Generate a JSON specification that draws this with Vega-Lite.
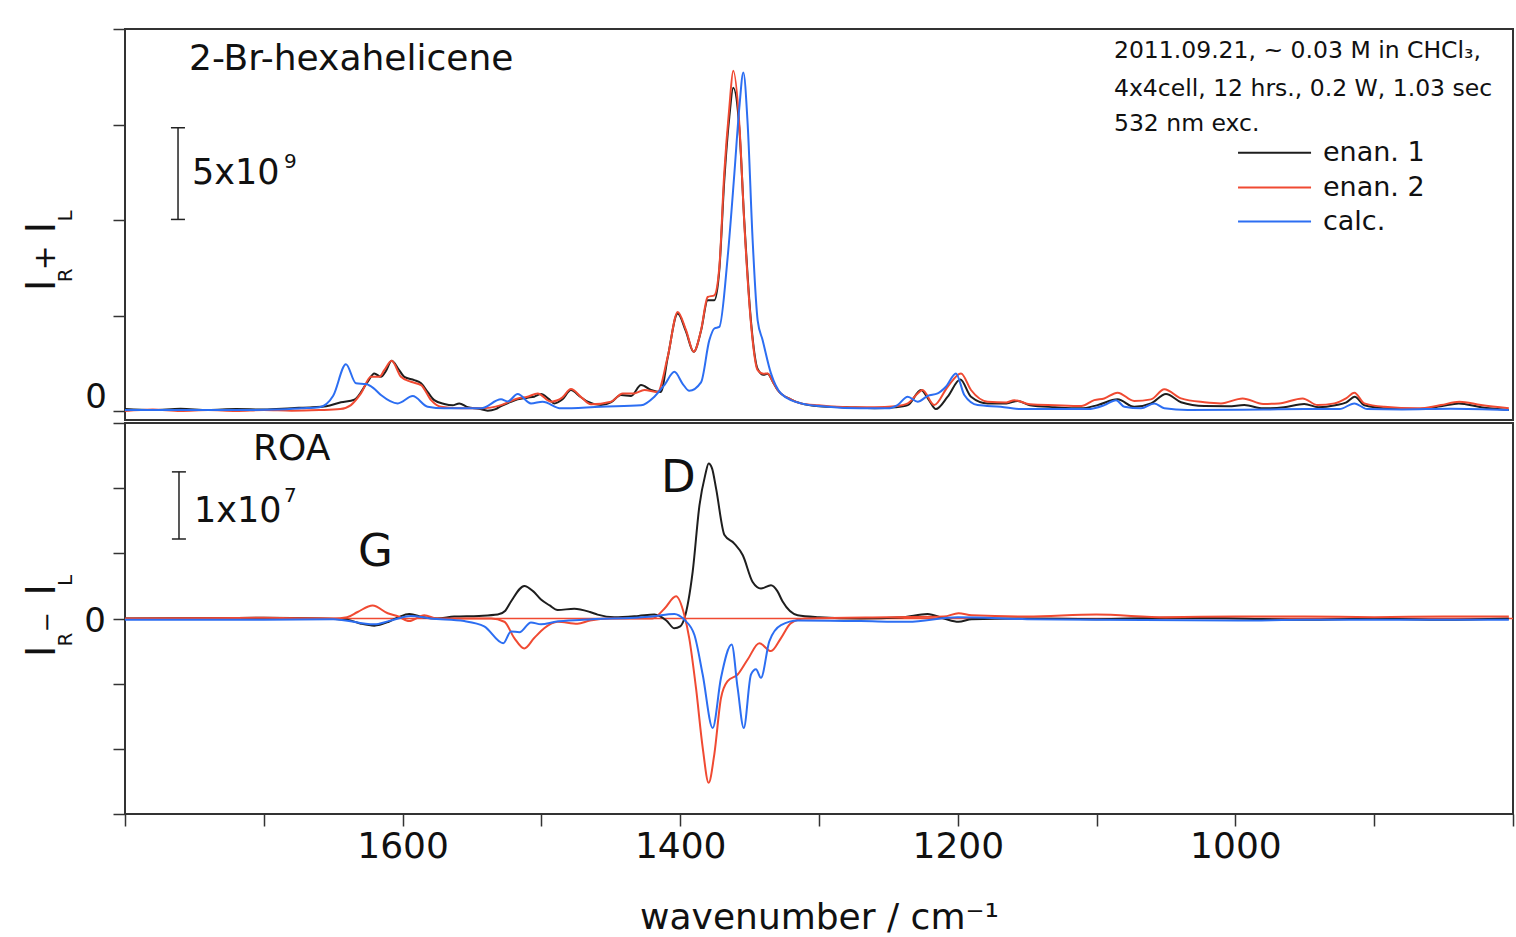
{
  "$schema": "https://vega.github.io/schema/vega-lite/v6.json",
  "background": "white",
  "padding": {"left": 22, "top": 27, "right": 0, "bottom": 0},
  "spacing": 0,
  "config": {
    "view": {"stroke": "#333333", "strokeWidth": 2},
    "font": "DejaVu Sans",
    "text": {"font": "DejaVu Sans", "color": "#111111"},
    "axis": {"tickColor": "#333333", "tickWidth": 1.5, "domain": false, "grid": false, "labelFont": "DejaVu Sans", "titleFont": "DejaVu Sans", "labelColor": "#111111", "titleColor": "#111111", "titleFontWeight": "normal"}
  },
  "datasets": {
    "raman": [
      {"s": "enan. 1", "w": 1800, "v": 0.1}, {"s": "enan. 1", "w": 1780, "v": 0.05}, {"s": "enan. 1", "w": 1760, "v": 0.12}, {"s": "enan. 1", "w": 1740, "v": 0.05}, {"s": "enan. 1", "w": 1720, "v": 0.1}, {"s": "enan. 1", "w": 1700, "v": 0.08}, {"s": "enan. 1", "w": 1680, "v": 0.15}, {"s": "enan. 1", "w": 1665, "v": 0.2}, {"s": "enan. 1", "w": 1655, "v": 0.25}, {"s": "enan. 1", "w": 1644.4, "v": 0.46}, {"s": "enan. 1", "w": 1634.8, "v": 0.59}, {"s": "enan. 1", "w": 1625.2, "v": 1.53}, {"s": "enan. 1", "w": 1620.4, "v": 1.97}, {"s": "enan. 1", "w": 1615.6, "v": 1.79}, {"s": "enan. 1", "w": 1612, "v": 2.1}, {"s": "enan. 1", "w": 1607.9, "v": 2.63}, {"s": "enan. 1", "w": 1603, "v": 2.2}, {"s": "enan. 1", "w": 1598.8, "v": 1.79}, {"s": "enan. 1", "w": 1591.6, "v": 1.62}, {"s": "enan. 1", "w": 1586.7, "v": 1.45}, {"s": "enan. 1", "w": 1582, "v": 1.0}, {"s": "enan. 1", "w": 1577.2, "v": 0.57}, {"s": "enan. 1", "w": 1570, "v": 0.37}, {"s": "enan. 1", "w": 1564, "v": 0.3}, {"s": "enan. 1", "w": 1559.2, "v": 0.4}, {"s": "enan. 1", "w": 1553, "v": 0.2}, {"s": "enan. 1", "w": 1545, "v": 0.12}, {"s": "enan. 1", "w": 1538.7, "v": 0.02}, {"s": "enan. 1", "w": 1533, "v": 0.1}, {"s": "enan. 1", "w": 1529.1, "v": 0.26}, {"s": "enan. 1", "w": 1523, "v": 0.45}, {"s": "enan. 1", "w": 1517.1, "v": 0.61}, {"s": "enan. 1", "w": 1510, "v": 0.7}, {"s": "enan. 1", "w": 1505.2, "v": 0.75}, {"s": "enan. 1", "w": 1500.3, "v": 0.89}, {"s": "enan. 1", "w": 1495, "v": 0.65}, {"s": "enan. 1", "w": 1490.7, "v": 0.4}, {"s": "enan. 1", "w": 1485, "v": 0.6}, {"s": "enan. 1", "w": 1478.7, "v": 1.1}, {"s": "enan. 1", "w": 1472, "v": 0.75}, {"s": "enan. 1", "w": 1466.7, "v": 0.49}, {"s": "enan. 1", "w": 1457.1, "v": 0.31}, {"s": "enan. 1", "w": 1450, "v": 0.45}, {"s": "enan. 1", "w": 1442.7, "v": 0.84}, {"s": "enan. 1", "w": 1435.4, "v": 0.79}, {"s": "enan. 1", "w": 1428.2, "v": 1.36}, {"s": "enan. 1", "w": 1421, "v": 1.1}, {"s": "enan. 1", "w": 1414, "v": 1.0}, {"s": "enan. 1", "w": 1409, "v": 2.8}, {"s": "enan. 1", "w": 1401.8, "v": 5.1}, {"s": "enan. 1", "w": 1396, "v": 4.2}, {"s": "enan. 1", "w": 1390.3, "v": 3.1}, {"s": "enan. 1", "w": 1385, "v": 4.2}, {"s": "enan. 1", "w": 1380.2, "v": 5.8}, {"s": "enan. 1", "w": 1375.4, "v": 5.8}, {"s": "enan. 1", "w": 1371.8, "v": 7.4}, {"s": "enan. 1", "w": 1368.3, "v": 12.0}, {"s": "enan. 1", "w": 1364.6, "v": 15.4}, {"s": "enan. 1", "w": 1361.8, "v": 16.93}, {"s": "enan. 1", "w": 1357.4, "v": 14.8}, {"s": "enan. 1", "w": 1353.8, "v": 9.9}, {"s": "enan. 1", "w": 1349, "v": 4.7}, {"s": "enan. 1", "w": 1344.2, "v": 2.2}, {"s": "enan. 1", "w": 1340, "v": 1.9}, {"s": "enan. 1", "w": 1337, "v": 1.95}, {"s": "enan. 1", "w": 1333, "v": 1.5}, {"s": "enan. 1", "w": 1329.8, "v": 1.1}, {"s": "enan. 1", "w": 1320, "v": 0.6}, {"s": "enan. 1", "w": 1313, "v": 0.4}, {"s": "enan. 1", "w": 1300, "v": 0.25}, {"s": "enan. 1", "w": 1280, "v": 0.2}, {"s": "enan. 1", "w": 1260, "v": 0.15}, {"s": "enan. 1", "w": 1245, "v": 0.2}, {"s": "enan. 1", "w": 1236, "v": 0.31}, {"s": "enan. 1", "w": 1226.5, "v": 1.1}, {"s": "enan. 1", "w": 1221, "v": 0.6}, {"s": "enan. 1", "w": 1215.8, "v": 0.1}, {"s": "enan. 1", "w": 1207.3, "v": 0.75}, {"s": "enan. 1", "w": 1198.2, "v": 1.65}, {"s": "enan. 1", "w": 1190.5, "v": 0.75}, {"s": "enan. 1", "w": 1178.5, "v": 0.4}, {"s": "enan. 1", "w": 1165, "v": 0.4}, {"s": "enan. 1", "w": 1156.9, "v": 0.53}, {"s": "enan. 1", "w": 1148, "v": 0.3}, {"s": "enan. 1", "w": 1130, "v": 0.2}, {"s": "enan. 1", "w": 1111.2, "v": 0.14}, {"s": "enan. 1", "w": 1099.3, "v": 0.31}, {"s": "enan. 1", "w": 1084.9, "v": 0.61}, {"s": "enan. 1", "w": 1072.9, "v": 0.22}, {"s": "enan. 1", "w": 1060.8, "v": 0.4}, {"s": "enan. 1", "w": 1050, "v": 0.89}, {"s": "enan. 1", "w": 1039.2, "v": 0.46}, {"s": "enan. 1", "w": 1022.4, "v": 0.26}, {"s": "enan. 1", "w": 1005, "v": 0.25}, {"s": "enan. 1", "w": 993.6, "v": 0.31}, {"s": "enan. 1", "w": 980, "v": 0.14}, {"s": "enan. 1", "w": 965, "v": 0.2}, {"s": "enan. 1", "w": 950.4, "v": 0.37}, {"s": "enan. 1", "w": 940, "v": 0.2}, {"s": "enan. 1", "w": 928, "v": 0.3}, {"s": "enan. 1", "w": 920, "v": 0.45}, {"s": "enan. 1", "w": 914, "v": 0.75}, {"s": "enan. 1", "w": 907, "v": 0.3}, {"s": "enan. 1", "w": 893, "v": 0.15}, {"s": "enan. 1", "w": 870, "v": 0.1}, {"s": "enan. 1", "w": 852, "v": 0.25}, {"s": "enan. 1", "w": 839, "v": 0.4}, {"s": "enan. 1", "w": 823, "v": 0.2}, {"s": "enan. 1", "w": 803, "v": 0.05},
      {"s": "enan. 2", "w": 1800, "v": 0.0}, {"s": "enan. 2", "w": 1780, "v": 0.08}, {"s": "enan. 2", "w": 1760, "v": 0.0}, {"s": "enan. 2", "w": 1740, "v": 0.05}, {"s": "enan. 2", "w": 1720, "v": 0.0}, {"s": "enan. 2", "w": 1700, "v": 0.05}, {"s": "enan. 2", "w": 1680, "v": 0.02}, {"s": "enan. 2", "w": 1660, "v": 0.05}, {"s": "enan. 2", "w": 1645, "v": 0.1}, {"s": "enan. 2", "w": 1637.2, "v": 0.31}, {"s": "enan. 2", "w": 1630, "v": 0.92}, {"s": "enan. 2", "w": 1622.8, "v": 1.79}, {"s": "enan. 2", "w": 1616.8, "v": 1.79}, {"s": "enan. 2", "w": 1613.2, "v": 2.14}, {"s": "enan. 2", "w": 1607.9, "v": 2.63}, {"s": "enan. 2", "w": 1601.2, "v": 1.79}, {"s": "enan. 2", "w": 1594, "v": 1.53}, {"s": "enan. 2", "w": 1586.7, "v": 1.36}, {"s": "enan. 2", "w": 1579.5, "v": 0.57}, {"s": "enan. 2", "w": 1572.3, "v": 0.22}, {"s": "enan. 2", "w": 1557.9, "v": 0.14}, {"s": "enan. 2", "w": 1543.5, "v": 0.14}, {"s": "enan. 2", "w": 1529.1, "v": 0.31}, {"s": "enan. 2", "w": 1517.1, "v": 0.66}, {"s": "enan. 2", "w": 1510, "v": 0.75}, {"s": "enan. 2", "w": 1502.7, "v": 0.92}, {"s": "enan. 2", "w": 1493.1, "v": 0.49}, {"s": "enan. 2", "w": 1485, "v": 0.7}, {"s": "enan. 2", "w": 1478.7, "v": 1.15}, {"s": "enan. 2", "w": 1471, "v": 0.7}, {"s": "enan. 2", "w": 1464.3, "v": 0.35}, {"s": "enan. 2", "w": 1449.9, "v": 0.49}, {"s": "enan. 2", "w": 1441.4, "v": 0.92}, {"s": "enan. 2", "w": 1433.1, "v": 0.92}, {"s": "enan. 2", "w": 1425.9, "v": 1.1}, {"s": "enan. 2", "w": 1416.3, "v": 1.0}, {"s": "enan. 2", "w": 1409, "v": 2.84}, {"s": "enan. 2", "w": 1401.8, "v": 5.19}, {"s": "enan. 2", "w": 1395.8, "v": 4.23}, {"s": "enan. 2", "w": 1390.3, "v": 3.1}, {"s": "enan. 2", "w": 1385, "v": 4.23}, {"s": "enan. 2", "w": 1380.2, "v": 5.97}, {"s": "enan. 2", "w": 1375.4, "v": 6.06}, {"s": "enan. 2", "w": 1371.8, "v": 7.54}, {"s": "enan. 2", "w": 1368.3, "v": 12.41}, {"s": "enan. 2", "w": 1364.6, "v": 15.89}, {"s": "enan. 2", "w": 1361.8, "v": 17.81}, {"s": "enan. 2", "w": 1357.4, "v": 15.02}, {"s": "enan. 2", "w": 1353.8, "v": 9.8}, {"s": "enan. 2", "w": 1349, "v": 4.58}, {"s": "enan. 2", "w": 1344.2, "v": 2.14}, {"s": "enan. 2", "w": 1340, "v": 1.95}, {"s": "enan. 2", "w": 1337, "v": 1.97}, {"s": "enan. 2", "w": 1333, "v": 1.5}, {"s": "enan. 2", "w": 1329.8, "v": 1.1}, {"s": "enan. 2", "w": 1320, "v": 0.6}, {"s": "enan. 2", "w": 1313, "v": 0.4}, {"s": "enan. 2", "w": 1300, "v": 0.3}, {"s": "enan. 2", "w": 1280, "v": 0.2}, {"s": "enan. 2", "w": 1260, "v": 0.2}, {"s": "enan. 2", "w": 1245, "v": 0.25}, {"s": "enan. 2", "w": 1236, "v": 0.4}, {"s": "enan. 2", "w": 1228.9, "v": 0.92}, {"s": "enan. 2", "w": 1225.5, "v": 1.1}, {"s": "enan. 2", "w": 1217, "v": 0.31}, {"s": "enan. 2", "w": 1207.3, "v": 1.27}, {"s": "enan. 2", "w": 1197.7, "v": 1.97}, {"s": "enan. 2", "w": 1190.5, "v": 1.1}, {"s": "enan. 2", "w": 1178.5, "v": 0.49}, {"s": "enan. 2", "w": 1165, "v": 0.45}, {"s": "enan. 2", "w": 1159.3, "v": 0.57}, {"s": "enan. 2", "w": 1148, "v": 0.35}, {"s": "enan. 2", "w": 1130, "v": 0.3}, {"s": "enan. 2", "w": 1111, "v": 0.26}, {"s": "enan. 2", "w": 1101.7, "v": 0.57}, {"s": "enan. 2", "w": 1094.5, "v": 0.66}, {"s": "enan. 2", "w": 1084.9, "v": 0.96}, {"s": "enan. 2", "w": 1072.9, "v": 0.53}, {"s": "enan. 2", "w": 1060.8, "v": 0.61}, {"s": "enan. 2", "w": 1051.2, "v": 1.14}, {"s": "enan. 2", "w": 1039.2, "v": 0.66}, {"s": "enan. 2", "w": 1022.4, "v": 0.46}, {"s": "enan. 2", "w": 1010.4, "v": 0.4}, {"s": "enan. 2", "w": 994.8, "v": 0.66}, {"s": "enan. 2", "w": 980, "v": 0.37}, {"s": "enan. 2", "w": 968.6, "v": 0.4}, {"s": "enan. 2", "w": 951.6, "v": 0.66}, {"s": "enan. 2", "w": 940.7, "v": 0.31}, {"s": "enan. 2", "w": 928.7, "v": 0.4}, {"s": "enan. 2", "w": 920.3, "v": 0.66}, {"s": "enan. 2", "w": 914.3, "v": 0.96}, {"s": "enan. 2", "w": 907.1, "v": 0.4}, {"s": "enan. 2", "w": 892.7, "v": 0.22}, {"s": "enan. 2", "w": 868.7, "v": 0.14}, {"s": "enan. 2", "w": 851.9, "v": 0.31}, {"s": "enan. 2", "w": 838.7, "v": 0.49}, {"s": "enan. 2", "w": 823.1, "v": 0.31}, {"s": "enan. 2", "w": 803, "v": 0.14},
      {"s": "calc.", "w": 1800, "v": 0.05}, {"s": "calc.", "w": 1760, "v": 0.05}, {"s": "calc.", "w": 1720, "v": 0.05}, {"s": "calc.", "w": 1690, "v": 0.08}, {"s": "calc.", "w": 1673, "v": 0.14}, {"s": "calc.", "w": 1660, "v": 0.2}, {"s": "calc.", "w": 1650, "v": 0.8}, {"s": "calc.", "w": 1640.8, "v": 2.45}, {"s": "calc.", "w": 1633.6, "v": 1.45}, {"s": "calc.", "w": 1626.4, "v": 1.41}, {"s": "calc.", "w": 1621, "v": 1.2}, {"s": "calc.", "w": 1615.6, "v": 0.84}, {"s": "calc.", "w": 1603.5, "v": 0.4}, {"s": "calc.", "w": 1592.7, "v": 0.78}, {"s": "calc.", "w": 1581.9, "v": 0.22}, {"s": "calc.", "w": 1570, "v": 0.14}, {"s": "calc.", "w": 1543.5, "v": 0.14}, {"s": "calc.", "w": 1529.1, "v": 0.61}, {"s": "calc.", "w": 1524.3, "v": 0.5}, {"s": "calc.", "w": 1517.1, "v": 0.89}, {"s": "calc.", "w": 1507.5, "v": 0.4}, {"s": "calc.", "w": 1499.1, "v": 0.49}, {"s": "calc.", "w": 1485.9, "v": 0.14}, {"s": "calc.", "w": 1457.1, "v": 0.23}, {"s": "calc.", "w": 1428.2, "v": 0.3}, {"s": "calc.", "w": 1418.6, "v": 0.75}, {"s": "calc.", "w": 1411, "v": 1.4}, {"s": "calc.", "w": 1404.2, "v": 2.05}, {"s": "calc.", "w": 1398, "v": 1.4}, {"s": "calc.", "w": 1393.5, "v": 1.06}, {"s": "calc.", "w": 1385, "v": 1.5}, {"s": "calc.", "w": 1379, "v": 3.71}, {"s": "calc.", "w": 1375.4, "v": 4.32}, {"s": "calc.", "w": 1371.8, "v": 4.4}, {"s": "calc.", "w": 1365.8, "v": 8.06}, {"s": "calc.", "w": 1361, "v": 12.41}, {"s": "calc.", "w": 1357.4, "v": 15.89}, {"s": "calc.", "w": 1354.5, "v": 17.72}, {"s": "calc.", "w": 1351.4, "v": 15.02}, {"s": "calc.", "w": 1347.8, "v": 8.93}, {"s": "calc.", "w": 1344.2, "v": 4.75}, {"s": "calc.", "w": 1340.6, "v": 3.71}, {"s": "calc.", "w": 1334.6, "v": 1.97}, {"s": "calc.", "w": 1327.4, "v": 0.92}, {"s": "calc.", "w": 1313, "v": 0.4}, {"s": "calc.", "w": 1293.7, "v": 0.22}, {"s": "calc.", "w": 1270, "v": 0.14}, {"s": "calc.", "w": 1250.5, "v": 0.14}, {"s": "calc.", "w": 1243.4, "v": 0.31}, {"s": "calc.", "w": 1236.1, "v": 0.75}, {"s": "calc.", "w": 1228.9, "v": 0.49}, {"s": "calc.", "w": 1221.7, "v": 0.79}, {"s": "calc.", "w": 1214.5, "v": 0.92}, {"s": "calc.", "w": 1208.6, "v": 1.27}, {"s": "calc.", "w": 1201.3, "v": 1.97}, {"s": "calc.", "w": 1195.3, "v": 0.84}, {"s": "calc.", "w": 1185.7, "v": 0.31}, {"s": "calc.", "w": 1169, "v": 0.22}, {"s": "calc.", "w": 1154.5, "v": 0.1}, {"s": "calc.", "w": 1106.4, "v": 0.1}, {"s": "calc.", "w": 1094.4, "v": 0.31}, {"s": "calc.", "w": 1086, "v": 0.57}, {"s": "calc.", "w": 1080, "v": 0.22}, {"s": "calc.", "w": 1068, "v": 0.14}, {"s": "calc.", "w": 1058.4, "v": 0.4}, {"s": "calc.", "w": 1051.2, "v": 0.14}, {"s": "calc.", "w": 1034.4, "v": 0.05}, {"s": "calc.", "w": 980, "v": 0.08}, {"s": "calc.", "w": 950, "v": 0.1}, {"s": "calc.", "w": 925, "v": 0.1}, {"s": "calc.", "w": 914.3, "v": 0.4}, {"s": "calc.", "w": 905, "v": 0.1}, {"s": "calc.", "w": 880, "v": 0.08}, {"s": "calc.", "w": 845, "v": 0.12}, {"s": "calc.", "w": 803, "v": 0.05}
    ],
    "roa": [
      {"s": "enan. 1", "w": 1800, "v": 0}, {"s": "enan. 1", "w": 1700, "v": 0.01}, {"s": "enan. 1", "w": 1660, "v": 0}, {"s": "enan. 1", "w": 1640, "v": -0.02}, {"s": "enan. 1", "w": 1630, "v": -0.08}, {"s": "enan. 1", "w": 1620.4, "v": -0.11}, {"s": "enan. 1", "w": 1610, "v": -0.05}, {"s": "enan. 1", "w": 1603, "v": 0.02}, {"s": "enan. 1", "w": 1595.2, "v": 0.07}, {"s": "enan. 1", "w": 1585, "v": 0.02}, {"s": "enan. 1", "w": 1575, "v": 0}, {"s": "enan. 1", "w": 1562.8, "v": 0.03}, {"s": "enan. 1", "w": 1545, "v": 0.04}, {"s": "enan. 1", "w": 1531.5, "v": 0.06}, {"s": "enan. 1", "w": 1526, "v": 0.12}, {"s": "enan. 1", "w": 1521.9, "v": 0.26}, {"s": "enan. 1", "w": 1512.3, "v": 0.5}, {"s": "enan. 1", "w": 1506, "v": 0.42}, {"s": "enan. 1", "w": 1500.3, "v": 0.29}, {"s": "enan. 1", "w": 1494, "v": 0.2}, {"s": "enan. 1", "w": 1488.3, "v": 0.13}, {"s": "enan. 1", "w": 1476.3, "v": 0.15}, {"s": "enan. 1", "w": 1465, "v": 0.1}, {"s": "enan. 1", "w": 1459.5, "v": 0.06}, {"s": "enan. 1", "w": 1447.5, "v": 0.02}, {"s": "enan. 1", "w": 1430, "v": 0.04}, {"s": "enan. 1", "w": 1418.6, "v": 0.06}, {"s": "enan. 1", "w": 1410, "v": -0.03}, {"s": "enan. 1", "w": 1404.2, "v": -0.15}, {"s": "enan. 1", "w": 1400, "v": -0.12}, {"s": "enan. 1", "w": 1397, "v": 0}, {"s": "enan. 1", "w": 1391, "v": 0.72}, {"s": "enan. 1", "w": 1386.1, "v": 1.74}, {"s": "enan. 1", "w": 1382, "v": 2.2}, {"s": "enan. 1", "w": 1379.5, "v": 2.38}, {"s": "enan. 1", "w": 1377, "v": 2.3}, {"s": "enan. 1", "w": 1374.1, "v": 1.99}, {"s": "enan. 1", "w": 1368.1, "v": 1.28}, {"s": "enan. 1", "w": 1361, "v": 1.15}, {"s": "enan. 1", "w": 1354.9, "v": 0.97}, {"s": "enan. 1", "w": 1347.8, "v": 0.56}, {"s": "enan. 1", "w": 1341.8, "v": 0.46}, {"s": "enan. 1", "w": 1334.6, "v": 0.51}, {"s": "enan. 1", "w": 1330, "v": 0.42}, {"s": "enan. 1", "w": 1326.2, "v": 0.26}, {"s": "enan. 1", "w": 1315.4, "v": 0.05}, {"s": "enan. 1", "w": 1300, "v": 0.02}, {"s": "enan. 1", "w": 1270, "v": 0.0}, {"s": "enan. 1", "w": 1240, "v": 0.02}, {"s": "enan. 1", "w": 1221.8, "v": 0.07}, {"s": "enan. 1", "w": 1210, "v": 0.0}, {"s": "enan. 1", "w": 1199.5, "v": -0.05}, {"s": "enan. 1", "w": 1190, "v": -0.01}, {"s": "enan. 1", "w": 1150, "v": 0}, {"s": "enan. 1", "w": 1100, "v": -0.01}, {"s": "enan. 1", "w": 1050, "v": 0.01}, {"s": "enan. 1", "w": 1000, "v": 0}, {"s": "enan. 1", "w": 950, "v": -0.02}, {"s": "enan. 1", "w": 900, "v": 0}, {"s": "enan. 1", "w": 850, "v": -0.02}, {"s": "enan. 1", "w": 803, "v": 0},
      {"s": "enan. 2", "w": 1800, "v": 0}, {"s": "enan. 2", "w": 1700, "v": 0.01}, {"s": "enan. 2", "w": 1650, "v": 0}, {"s": "enan. 2", "w": 1640, "v": 0.02}, {"s": "enan. 2", "w": 1632.4, "v": 0.1}, {"s": "enan. 2", "w": 1621.6, "v": 0.2}, {"s": "enan. 2", "w": 1610.7, "v": 0.08}, {"s": "enan. 2", "w": 1603, "v": 0.03}, {"s": "enan. 2", "w": 1595.2, "v": -0.04}, {"s": "enan. 2", "w": 1584.4, "v": 0.05}, {"s": "enan. 2", "w": 1575, "v": 0}, {"s": "enan. 2", "w": 1536.3, "v": 0}, {"s": "enan. 2", "w": 1526.7, "v": -0.05}, {"s": "enan. 2", "w": 1519.5, "v": -0.3}, {"s": "enan. 2", "w": 1512.3, "v": -0.46}, {"s": "enan. 2", "w": 1505.2, "v": -0.3}, {"s": "enan. 2", "w": 1498, "v": -0.15}, {"s": "enan. 2", "w": 1488.3, "v": -0.05}, {"s": "enan. 2", "w": 1474, "v": -0.08}, {"s": "enan. 2", "w": 1465, "v": -0.03}, {"s": "enan. 2", "w": 1450, "v": 0}, {"s": "enan. 2", "w": 1420, "v": 0.0}, {"s": "enan. 2", "w": 1411.4, "v": 0.15}, {"s": "enan. 2", "w": 1403, "v": 0.34}, {"s": "enan. 2", "w": 1397, "v": 0.05}, {"s": "enan. 2", "w": 1393.5, "v": -0.3}, {"s": "enan. 2", "w": 1388.6, "v": -1.07}, {"s": "enan. 2", "w": 1383.8, "v": -1.98}, {"s": "enan. 2", "w": 1379.5, "v": -2.52}, {"s": "enan. 2", "w": 1375.4, "v": -2.08}, {"s": "enan. 2", "w": 1370.6, "v": -1.22}, {"s": "enan. 2", "w": 1365.8, "v": -0.96}, {"s": "enan. 2", "w": 1358.6, "v": -0.86}, {"s": "enan. 2", "w": 1351.4, "v": -0.63}, {"s": "enan. 2", "w": 1343, "v": -0.38}, {"s": "enan. 2", "w": 1334.6, "v": -0.5}, {"s": "enan. 2", "w": 1327.4, "v": -0.3}, {"s": "enan. 2", "w": 1320.2, "v": -0.07}, {"s": "enan. 2", "w": 1310, "v": 0}, {"s": "enan. 2", "w": 1250, "v": 0.02}, {"s": "enan. 2", "w": 1210, "v": 0.03}, {"s": "enan. 2", "w": 1199.5, "v": 0.08}, {"s": "enan. 2", "w": 1190, "v": 0.05}, {"s": "enan. 2", "w": 1150, "v": 0.03}, {"s": "enan. 2", "w": 1100.3, "v": 0.06}, {"s": "enan. 2", "w": 1050, "v": 0.02}, {"s": "enan. 2", "w": 1000, "v": 0.03}, {"s": "enan. 2", "w": 950, "v": 0.03}, {"s": "enan. 2", "w": 900, "v": 0.02}, {"s": "enan. 2", "w": 850, "v": 0.03}, {"s": "enan. 2", "w": 803, "v": 0.03},
      {"s": "calc.", "w": 1800, "v": -0.02}, {"s": "calc.", "w": 1700, "v": -0.02}, {"s": "calc.", "w": 1650, "v": -0.01}, {"s": "calc.", "w": 1620.4, "v": -0.09}, {"s": "calc.", "w": 1610, "v": -0.04}, {"s": "calc.", "w": 1594, "v": 0.04}, {"s": "calc.", "w": 1580, "v": 0.0}, {"s": "calc.", "w": 1555.6, "v": -0.04}, {"s": "calc.", "w": 1541.2, "v": -0.12}, {"s": "calc.", "w": 1527.5, "v": -0.38}, {"s": "calc.", "w": 1521.9, "v": -0.2}, {"s": "calc.", "w": 1515.9, "v": -0.21}, {"s": "calc.", "w": 1507.5, "v": -0.06}, {"s": "calc.", "w": 1500.3, "v": -0.09}, {"s": "calc.", "w": 1490, "v": -0.05}, {"s": "calc.", "w": 1470, "v": -0.02}, {"s": "calc.", "w": 1420, "v": 0.03}, {"s": "calc.", "w": 1404.2, "v": 0.07}, {"s": "calc.", "w": 1397, "v": -0.02}, {"s": "calc.", "w": 1389.8, "v": -0.25}, {"s": "calc.", "w": 1383.8, "v": -0.86}, {"s": "calc.", "w": 1376.6, "v": -1.68}, {"s": "calc.", "w": 1370.6, "v": -0.91}, {"s": "calc.", "w": 1362.9, "v": -0.4}, {"s": "calc.", "w": 1358.6, "v": -1.07}, {"s": "calc.", "w": 1354.2, "v": -1.68}, {"s": "calc.", "w": 1349, "v": -0.86}, {"s": "calc.", "w": 1345.4, "v": -0.78}, {"s": "calc.", "w": 1341.8, "v": -0.91}, {"s": "calc.", "w": 1335.8, "v": -0.35}, {"s": "calc.", "w": 1327.4, "v": -0.1}, {"s": "calc.", "w": 1315, "v": -0.03}, {"s": "calc.", "w": 1270, "v": -0.04}, {"s": "calc.", "w": 1236, "v": -0.05}, {"s": "calc.", "w": 1200, "v": 0.02}, {"s": "calc.", "w": 1150, "v": -0.01}, {"s": "calc.", "w": 1100, "v": -0.02}, {"s": "calc.", "w": 998, "v": -0.03}, {"s": "calc.", "w": 950, "v": -0.02}, {"s": "calc.", "w": 900, "v": -0.02}, {"s": "calc.", "w": 850, "v": -0.02}, {"s": "calc.", "w": 803, "v": -0.02}
    ],
    "topScaleBar": [
      {"w": 1761.8, "w2": 1761.8, "v": 10.03, "v2": 14.83},
      {"w": 1766.9, "w2": 1756.8, "v": 10.03, "v2": 10.03},
      {"w": 1766.9, "w2": 1756.8, "v": 14.83, "v2": 14.83}
    ],
    "legendLines": [
      {"s": "enan. 1", "w": 998.1, "w2": 945.5, "v": 13.52},
      {"s": "enan. 2", "w": 998.1, "w2": 945.5, "v": 11.7},
      {"s": "calc.", "w": 998.1, "w2": 945.5, "v": 9.92}
    ],
    "legendText": [
      {"w": 936.9, "v": 13.52, "t": "enan. 1"},
      {"w": 936.9, "v": 11.7, "t": "enan. 2"},
      {"w": 936.9, "v": 9.92, "t": "calc."}
    ],
    "infoText": [
      {"w": 1087.5, "v": 18.49, "t": "2011.09.21, ~ 0.03 M in CHCl₃,"},
      {"w": 1087.5, "v": 16.5, "t": "4x4cell, 12 hrs., 0.2 W, 1.03 sec"},
      {"w": 1087.5, "v": 14.67, "t": "532 nm exc."}
    ],
    "topTitle": [{"w": 1753.9, "v": 17.86, "t": "2-Br-hexahelicene"}],
    "topScaleLabel": [{"w": 1751.7, "v": 11.9, "t": "5x10"}],
    "topScaleSup": [{"w": 1685.4, "v": 12.74, "t": "9"}],
    "topZero": [{"w": 1813, "v": 0.157, "t": "0"}],
    "topYBig": [{"w": 1850.4, "v": 6.27, "t": "I"}, {"w": 1850.4, "v": 9.3, "t": "I"}],
    "topYOp": [{"w": 1850.4, "v": 7.36, "t": "+"}],
    "topYSub": [{"w": 1838.2, "v": 6.74, "t": "R"}, {"w": 1838.2, "v": 9.92, "t": "L"}],
    "zeroLine": [{"w": 1800, "w2": 800, "v": 0}],
    "botScaleBar": [
      {"w": 1761.1, "w2": 1761.1, "v": 1.22, "v2": 2.25},
      {"w": 1766.2, "w2": 1756.1, "v": 1.22, "v2": 1.22},
      {"w": 1766.2, "w2": 1756.1, "v": 2.25, "v2": 2.25}
    ],
    "botTitle": [{"w": 1707.8, "v": 2.43, "t": "ROA"}],
    "botScaleLabel": [{"w": 1750.3, "v": 1.48, "t": "1x10"}],
    "botScaleSup": [{"w": 1685.4, "v": 1.79, "t": "7"}],
    "botLetters": [{"w": 1632.1, "v": 0.8, "t": "G"}, {"w": 1413.8, "v": 1.94, "t": "D"}],
    "botZero": [{"w": 1813.7, "v": -0.2, "t": "0"}],
    "botYBig": [{"w": 1850.4, "v": -0.596, "t": "I"}, {"w": 1850.4, "v": 0.35, "t": "I"}],
    "botYOp": [{"w": 1850.4, "v": -0.214, "t": "−"}],
    "botYSub": [{"w": 1838.2, "v": -0.428, "t": "R"}, {"w": 1838.2, "v": 0.5, "t": "L"}]
  },
  "vconcat": [
    {
      "width": 1388,
      "height": 391,
      "encoding": {
        "x": {"field": "w", "type": "quantitative", "scale": {"domain": [800, 1800], "reverse": true, "nice": false, "zero": false}, "axis": null},
        "y": {"field": "v", "type": "quantitative", "scale": {"domain": [-0.47, 20], "nice": false, "zero": false}, "axis": {"values": [0, 5, 10, 15, 20], "labels": false, "title": null, "tickSize": 12}}
      },
      "layer": [
        {"data": {"name": "raman"}, "mark": {"type": "line", "interpolate": "monotone", "strokeWidth": 2},
         "encoding": {"color": {"field": "s", "type": "nominal", "scale": {"domain": ["enan. 1", "enan. 2", "calc."], "range": ["#1e1e1e", "#f04a32", "#2c6ef2"]}, "legend": null}}},
        {"data": {"name": "topScaleBar"}, "mark": {"type": "rule", "color": "#222222", "strokeWidth": 1.5},
         "encoding": {"x2": {"field": "w2"}, "y2": {"field": "v2"}}},
        {"data": {"name": "legendLines"}, "mark": {"type": "rule", "strokeWidth": 2},
         "encoding": {"x2": {"field": "w2"}, "color": {"field": "s", "type": "nominal", "scale": {"domain": ["enan. 1", "enan. 2", "calc."], "range": ["#1e1e1e", "#f04a32", "#2c6ef2"]}, "legend": null}}},
        {"data": {"name": "topTitle"}, "mark": {"type": "text", "fontSize": 36, "align": "left", "baseline": "alphabetic"}, "encoding": {"text": {"field": "t"}}},
        {"data": {"name": "topScaleLabel"}, "mark": {"type": "text", "fontSize": 35, "align": "left", "baseline": "alphabetic"}, "encoding": {"text": {"field": "t"}}},
        {"data": {"name": "topScaleSup"}, "mark": {"type": "text", "fontSize": 20, "align": "left", "baseline": "alphabetic"}, "encoding": {"text": {"field": "t"}}},
        {"data": {"name": "infoText"}, "mark": {"type": "text", "fontSize": 23.5, "align": "left", "baseline": "alphabetic"}, "encoding": {"text": {"field": "t"}}},
        {"data": {"name": "legendText"}, "mark": {"type": "text", "fontSize": 27, "align": "left", "baseline": "middle"}, "encoding": {"text": {"field": "t"}}},
        {"data": {"name": "topZero"}, "mark": {"type": "text", "fontSize": 34, "align": "right", "baseline": "alphabetic"}, "encoding": {"text": {"field": "t"}}},
        {"data": {"name": "topYBig"}, "mark": {"type": "text", "fontSize": 40, "angle": 270, "align": "left", "baseline": "alphabetic"}, "encoding": {"text": {"field": "t"}}},
        {"data": {"name": "topYOp"}, "mark": {"type": "text", "fontSize": 30, "angle": 270, "align": "left", "baseline": "alphabetic"}, "encoding": {"text": {"field": "t"}}},
        {"data": {"name": "topYSub"}, "mark": {"type": "text", "fontSize": 20, "angle": 270, "align": "left", "baseline": "alphabetic"}, "encoding": {"text": {"field": "t"}}}
      ]
    },
    {
      "width": 1388,
      "height": 391,
      "encoding": {
        "x": {"field": "w", "type": "quantitative", "scale": {"domain": [800, 1800], "reverse": true, "nice": false, "zero": false},
              "axis": {"values": [800, 900, 1000, 1100, 1200, 1300, 1400, 1500, 1600, 1700, 1800], "format": "d",
                       "labelExpr": "datum.value == 1600 || datum.value == 1400 || datum.value == 1200 || datum.value == 1000 ? datum.label : ''",
                       "tickSize": 12, "labelFontSize": 36, "labelPadding": 3, "labelFlush": false,
                       "title": "wavenumber / cm⁻¹", "titleFontSize": 36, "titlePadding": 36}},
        "y": {"field": "v", "type": "quantitative", "scale": {"domain": [-3, 3], "nice": false, "zero": false}, "axis": {"values": [-3, -2, -1, 0, 1, 2, 3], "labels": false, "title": null, "tickSize": 12}}
      },
      "layer": [
        {"data": {"name": "zeroLine"}, "mark": {"type": "rule", "color": "#f04a32", "strokeWidth": 1.5}, "encoding": {"x2": {"field": "w2"}}},
        {"data": {"name": "roa"}, "mark": {"type": "line", "interpolate": "monotone", "strokeWidth": 2},
         "encoding": {"color": {"field": "s", "type": "nominal", "scale": {"domain": ["enan. 1", "enan. 2", "calc."], "range": ["#1e1e1e", "#f04a32", "#2c6ef2"]}, "legend": null}}},
        {"data": {"name": "botScaleBar"}, "mark": {"type": "rule", "color": "#222222", "strokeWidth": 1.5},
         "encoding": {"x2": {"field": "w2"}, "y2": {"field": "v2"}}},
        {"data": {"name": "botTitle"}, "mark": {"type": "text", "fontSize": 36, "align": "left", "baseline": "alphabetic"}, "encoding": {"text": {"field": "t"}}},
        {"data": {"name": "botScaleLabel"}, "mark": {"type": "text", "fontSize": 35, "align": "left", "baseline": "alphabetic"}, "encoding": {"text": {"field": "t"}}},
        {"data": {"name": "botScaleSup"}, "mark": {"type": "text", "fontSize": 20, "align": "left", "baseline": "alphabetic"}, "encoding": {"text": {"field": "t"}}},
        {"data": {"name": "botLetters"}, "mark": {"type": "text", "fontSize": 45, "align": "left", "baseline": "alphabetic"}, "encoding": {"text": {"field": "t"}}},
        {"data": {"name": "botZero"}, "mark": {"type": "text", "fontSize": 34, "align": "right", "baseline": "alphabetic"}, "encoding": {"text": {"field": "t"}}},
        {"data": {"name": "botYBig"}, "mark": {"type": "text", "fontSize": 40, "angle": 270, "align": "left", "baseline": "alphabetic"}, "encoding": {"text": {"field": "t"}}},
        {"data": {"name": "botYOp"}, "mark": {"type": "text", "fontSize": 24, "angle": 270, "align": "left", "baseline": "alphabetic"}, "encoding": {"text": {"field": "t"}}},
        {"data": {"name": "botYSub"}, "mark": {"type": "text", "fontSize": 20, "angle": 270, "align": "left", "baseline": "alphabetic"}, "encoding": {"text": {"field": "t"}}}
      ]
    }
  ]
}
